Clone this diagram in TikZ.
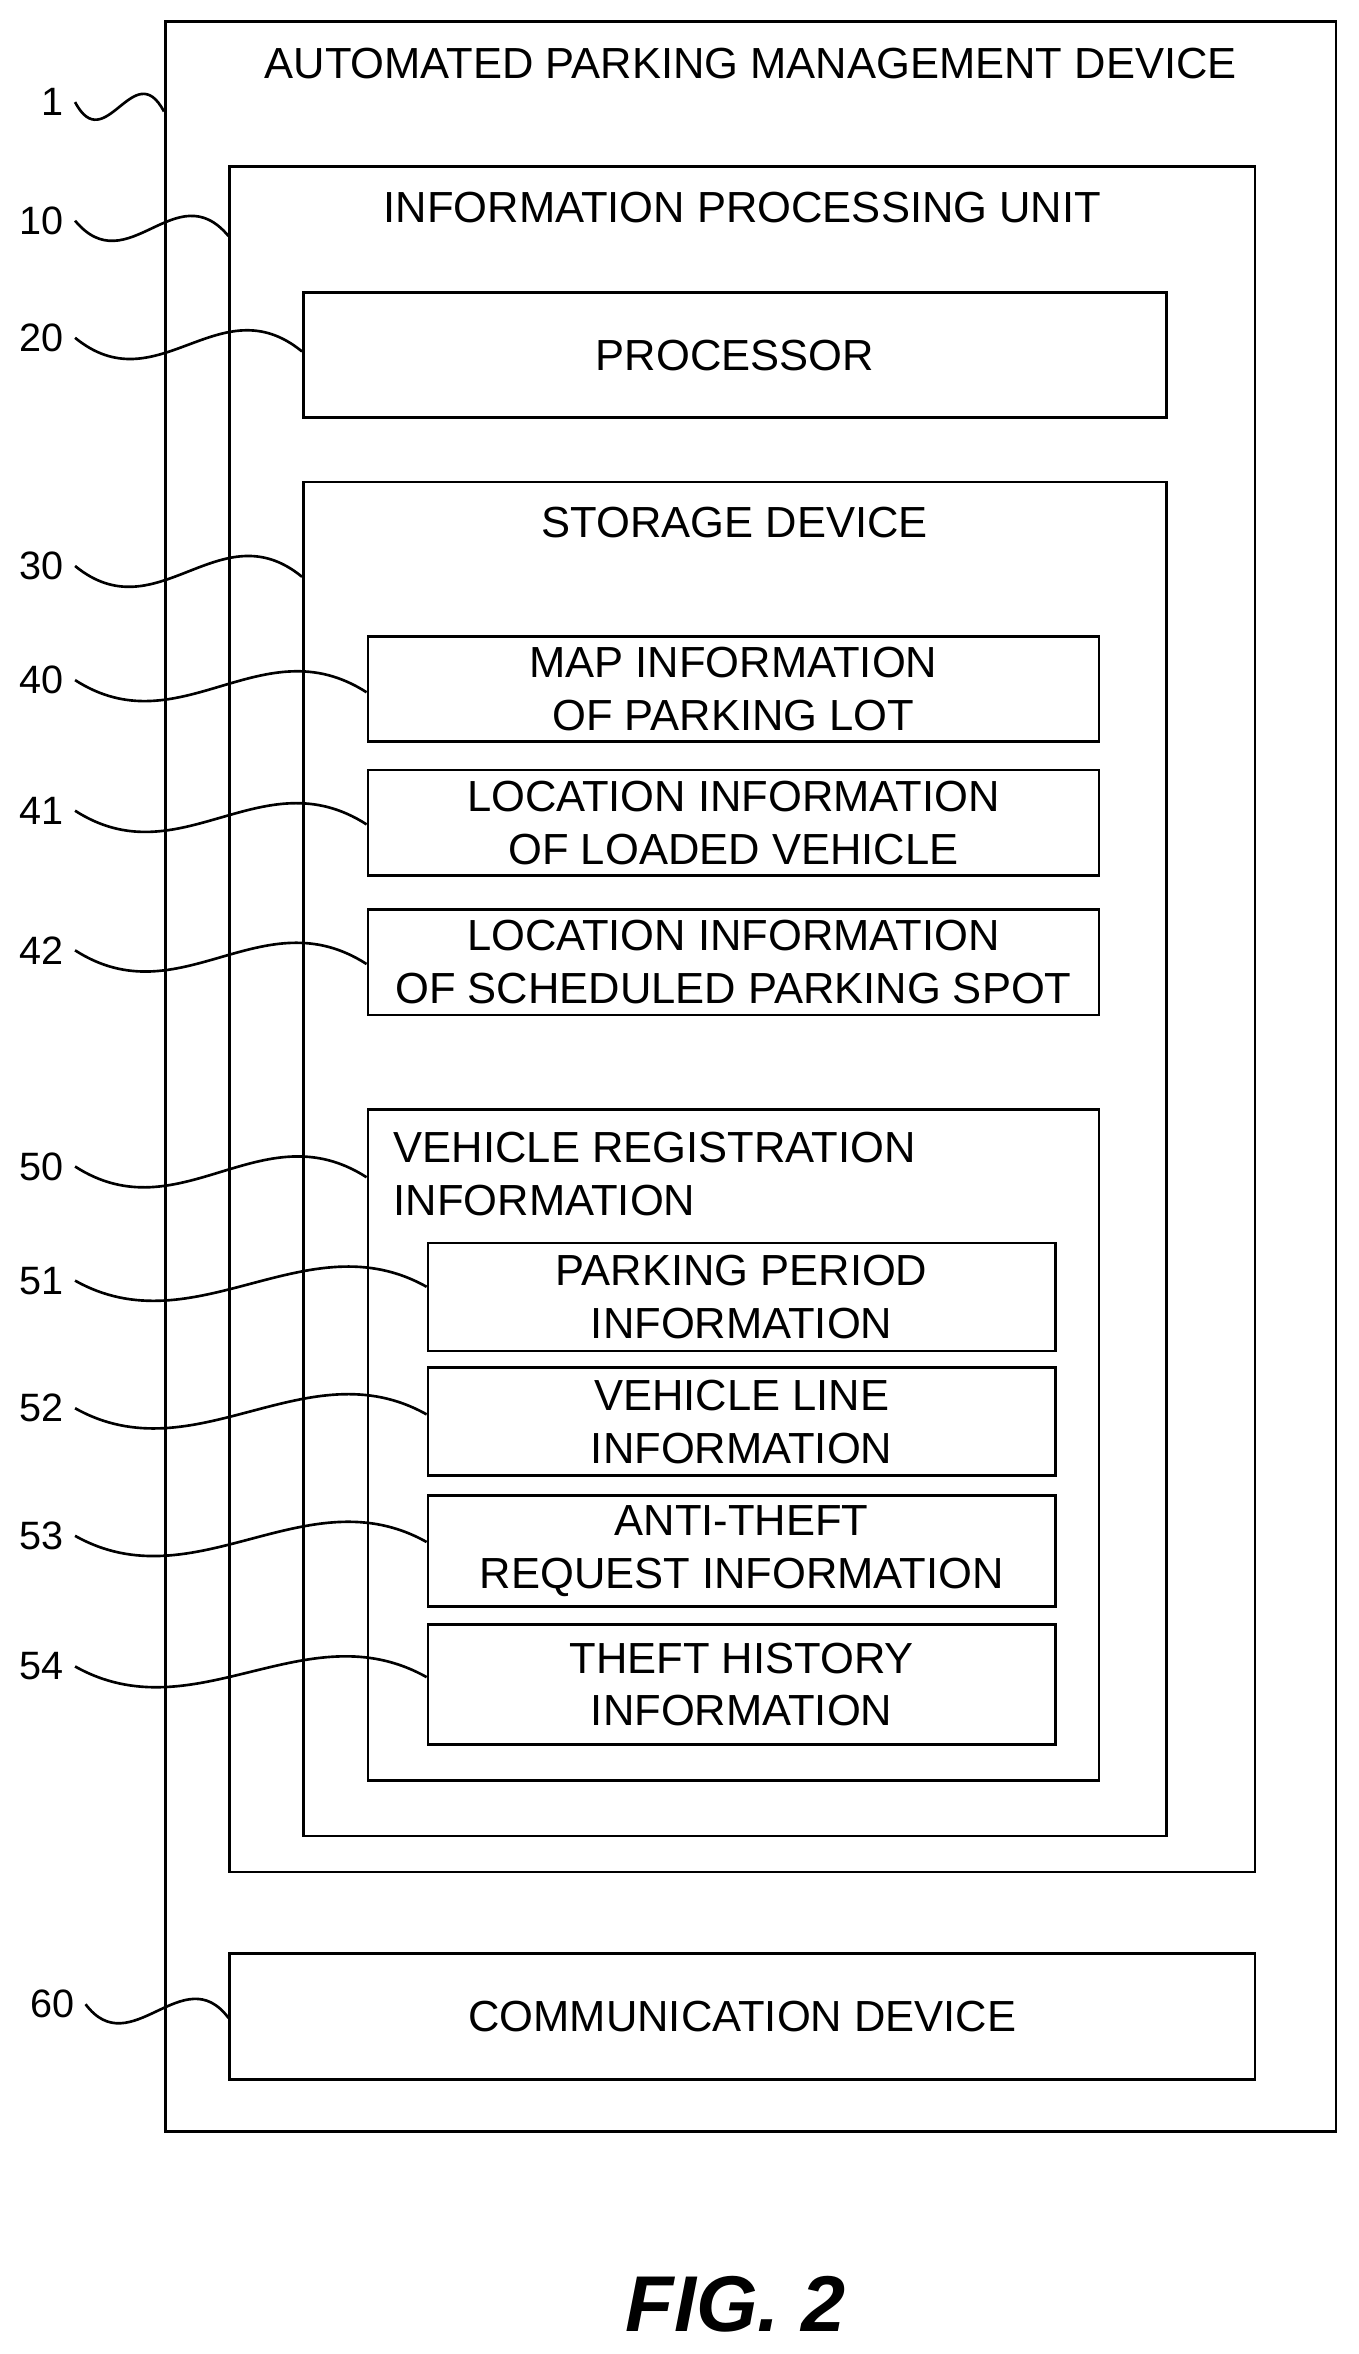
\documentclass[tikz,border=0pt]{standalone}
\usepackage{fontspec}
\setmainfont{Liberation Sans}
\usetikzlibrary{positioning, calc}
\tikzset{
    Box/.style = {draw, line width=1pt, inner sep=0pt, align=center,
        font=\fontsize{16.5}{20}\selectfont},
    Txt/.style = {inner sep=0pt, align=center, font=\fontsize{16.5}{20}\selectfont},
    Num/.style = {anchor=east, inner sep=4pt, font=\fontsize{15}{17}\selectfont},
    Lead/.style = {line width=1pt}
}
\begin{document}
\begin{tikzpicture}[x=0.02cm, y=-0.02cm]
    \useasboundingbox (0,0) rectangle (905,1568);

    % boxes
    \node[Box, minimum width=15.6cm, minimum height=28.12cm] (apmd) at (500,717) {};
    \node[Txt] at (500,42) {AUTOMATED PARKING MANAGEMENT DEVICE};
    \node[Box, minimum width=13.66cm, minimum height=22.72cm] (ipu) at (494.5,679) {};
    \node[Txt] at (494.5,138) {INFORMATION PROCESSING UNIT};
    \node[Box, minimum width=11.5cm, minimum height=1.66cm] (proc) at (489.5,236.5) {PROCESSOR};
    \node[Box, minimum width=11.5cm, minimum height=18.04cm] (stor) at (489.5,772) {};
    \node[Txt] at (489.5,348) {STORAGE DEVICE};
    \node[Box, minimum width=9.74cm, minimum height=1.4cm] (map) at (488.5,459) {MAP INFORMATION\\OF PARKING LOT};
    \node[Box, minimum width=9.74cm, minimum height=1.4cm] (loc) at (488.5,548) {LOCATION INFORMATION\\OF LOADED VEHICLE};
    \node[Box, minimum width=9.74cm, minimum height=1.4cm] (spot) at (488.5,641) {LOCATION INFORMATION\\OF SCHEDULED PARKING SPOT};
    \node[Box, minimum width=9.74cm, minimum height=8.94cm] (vreg) at (488.5,962.5) {};
    \node[Txt, align=left, anchor=north west] at (262,754) {VEHICLE REGISTRATION\\INFORMATION};
    \node[Box, minimum width=8.36cm, minimum height=1.44cm] (period) at (494,864) {PARKING PERIOD\\INFORMATION};
    \node[Box, minimum width=8.36cm, minimum height=1.44cm] (line) at (494,947) {VEHICLE LINE\\INFORMATION};
    \node[Box, minimum width=8.36cm, minimum height=1.48cm] (anti) at (494,1033) {ANTI-THEFT\\REQUEST INFORMATION};
    \node[Box, minimum width=8.36cm, minimum height=1.6cm] (hist) at (494,1122) {THEFT HISTORY\\INFORMATION};
    \node[Box, minimum width=13.66cm, minimum height=1.68cm] (comm) at (494.5,1343) {COMMUNICATION DEVICE};

    % reference numerals
    \node[Num] (n1) at (50,68) {1};
    \node[Num] (n10) at (50,147) {10};
    \node[Num] (n20) at (50,225) {20};
    \node[Num] (n30) at (50,377) {30};
    \node[Num] (n40) at (50,453) {40};
    \node[Num] (n41) at (50,540) {41};
    \node[Num] (n42) at (50,633) {42};
    \node[Num] (n50) at (50,777) {50};
    \node[Num] (n51) at (50,853) {51};
    \node[Num] (n52) at (50,938) {52};
    \node[Num] (n53) at (50,1023) {53};
    \node[Num] (n54) at (50,1110) {54};
    \node[Num] (n60) at (57,1335) {60};

    % leader lines
    \draw[Lead] (n1.east) .. controls +(20,38) and +(-20,-38) .. ($(apmd.north west)+(0,61)$);
    \draw[Lead] (n10.east) .. controls +(35,42) and +(-35,-42) .. ($(ipu.north west)+(0,47)$);
    \draw[Lead] (n20.east) .. controls +(55,45) and +(-55,-45) .. ($(proc.north west)+(0,40)$);
    \draw[Lead] (n30.east) .. controls +(55,45) and +(-55,-45) .. ($(stor.north west)+(0,64)$);
    \draw[Lead] (n40.east) .. controls +(70,45) and +(-70,-45) .. ($(map.north west)+(0,38)$);
    \draw[Lead] (n41.east) .. controls +(70,45) and +(-70,-45) .. ($(loc.north west)+(0,37)$);
    \draw[Lead] (n42.east) .. controls +(70,45) and +(-70,-45) .. ($(spot.north west)+(0,37)$);
    \draw[Lead] (n50.east) .. controls +(70,45) and +(-70,-45) .. ($(vreg.north west)+(0,46)$);
    \draw[Lead] (n51.east) .. controls +(80,45) and +(-80,-45) .. ($(period.north west)+(0,30)$);
    \draw[Lead] (n52.east) .. controls +(80,45) and +(-80,-45) .. ($(line.north west)+(0,32)$);
    \draw[Lead] (n53.east) .. controls +(80,45) and +(-80,-45) .. ($(anti.north west)+(0,32)$);
    \draw[Lead] (n54.east) .. controls +(80,45) and +(-80,-45) .. ($(hist.north west)+(0,36)$);
    \draw[Lead] (n60.east) .. controls +(30,40) and +(-30,-40) .. ($(comm.north west)+(0,44)$);

    % figure caption
    \node[font=\fontsize{30}{34}\selectfont\bfseries\itshape] (fig) at (490,1535) {FIG. 2};
\end{tikzpicture}
\end{document}
